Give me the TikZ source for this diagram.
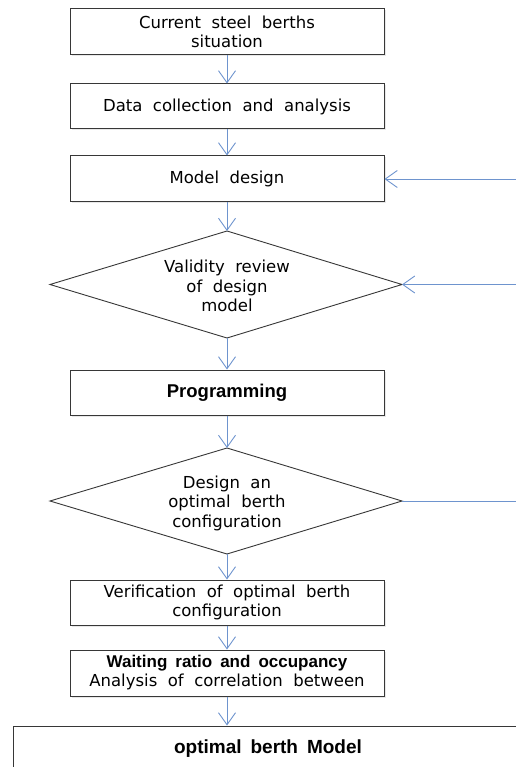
\documentclass[tikz,border=0pt]{standalone}
\usepackage{fontspec}
\setmainfont[WordSpace=2.0]{DejaVu Sans}
\newfontfamily\boldfont[WordSpace=1.7]{Liberation Sans Bold}
\usetikzlibrary{arrows.meta,shadows}
\definecolor{flow}{RGB}{110,148,206}
\definecolor{edge}{RGB}{55,55,55}
\tikzset{
  stepbox/.style={draw=edge, line width=1pt, fill=white, minimum width=314pt,
    minimum height=46pt, inner sep=0pt, align=center,
    font=\fontsize{16.5}{19}\selectfont,
    drop shadow={opacity=0.18, shadow xshift=1.5pt, shadow yshift=-1.5pt}},
  decision/.style={draw=edge, line width=0.9pt, fill=white},
  dtext/.style={align=center, inner sep=0pt, font=\fontsize{16.5}{19.5}\selectfont},
  flowarrow/.style={draw=flow, line width=0.9pt, -{Straight Barb[length=12pt,width=17pt,line width=0.9pt]}},
  flowline/.style={draw=flow, line width=0.9pt},
}
\begin{document}
\begin{tikzpicture}[x=1pt,y=-1pt]
\useasboundingbox (0,0) rectangle (515,767);
\node[stepbox] (b1) at (227,32) {Current steel berths\\situation};
\node[stepbox, minimum height=45pt] (b2) at (227,106.5) {Data collection and analysis};
\node[stepbox] (b3) at (227,179) {Model design};
% diamond 1
\coordinate (d1n) at (227,231);
\coordinate (d1s) at (227,338);
\coordinate (d1w) at (50,284.5);
\coordinate (d1e) at (402,284.5);
\draw[decision] (d1n) -- (d1e) -- (d1s) -- (d1w) -- cycle;
\node[dtext] (d1) at (227,286) {Validity review\\of design\\model};
\node[stepbox, minimum height=45pt] (b4) at (227,392.5) {\boldfont\fontsize{18.5}{19}\selectfont Programming};
% diamond 2
\coordinate (d2n) at (227,448);
\coordinate (d2s) at (227,554);
\coordinate (d2w) at (50,501);
\coordinate (d2e) at (402,501);
\draw[decision] (d2n) -- (d2e) -- (d2s) -- (d2w) -- cycle;
\node[dtext] (d2) at (227,503) {Design an\\optimal berth\\configuration};
\node[stepbox, minimum height=45pt] (b5) at (227,602.5) {Verification of optimal berth\\configuration};
\node[stepbox] (b6) at (227,673) {{\boldfont\fontsize{17}{18}\selectfont Waiting ratio and occupancy}\\Analysis of correlation between};
\node[stepbox, minimum width=510pt, minimum height=46pt, drop shadow={opacity=0}] (b7) at (268,749) {\boldfont\fontsize{19}{19}\selectfont optimal berth Model};
% right-side free ends
\coordinate (r1) at (516,179);
\coordinate (r2) at (516,284.5);
\coordinate (r3) at (516,501);
% connectors
\draw[flowarrow] (b1) -- (b2);
\draw[flowarrow] (b2) -- (b3);
\draw[flowarrow] (b3) -- (d1n);
\draw[flowarrow] (d1s) -- (b4);
\draw[flowarrow] (b4) -- (d2n);
\draw[flowarrow] (d2s) -- (b5);
\draw[flowarrow] (b5) -- (b6);
\draw[flowarrow] (b6) -- (b6 |- b7.north);
\draw[flowarrow] (r1) -- (b3);
\draw[flowarrow] (r2) -- (d1e);
\draw[flowline] (d2e) -- (r3);
\end{tikzpicture}
\end{document}
